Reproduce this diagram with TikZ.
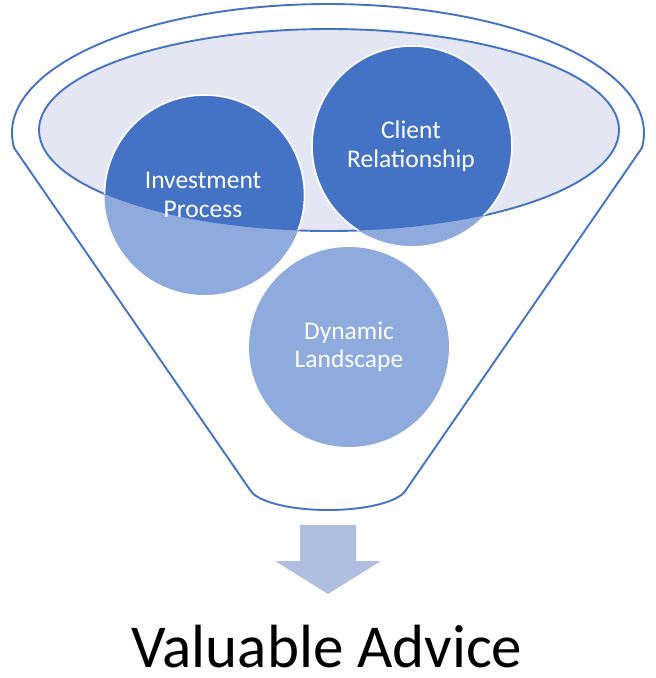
\documentclass[tikz,border=0pt]{standalone}
\usepackage{fontspec}
\setmainfont{Carlito}
\usetikzlibrary{calc}
\definecolor{fblue}{HTML}{4472C4}
\definecolor{flight}{HTML}{8FAADC}
\definecolor{flav}{HTML}{E4E7F3}
\definecolor{farrow}{HTML}{B0BEDF}
\tikzset{
  funnelline/.style={draw=fblue, line width=1.9pt, line join=round},
  circlelabel/.style={text=white, align=center, font=\fontsize{25.5}{28.5}\selectfont, inner sep=0pt},
}
\begin{document}
\begin{tikzpicture}[x=1pt,y=-1pt]
\useasboundingbox[fill=white] (0,0) rectangle (656,678);
% funnel outline
\coordinate (oc) at (328,133);
\coordinate (bc) at (328,486);
\draw[funnelline] ($(oc)+(173.3:316 and 129)$) coordinate (ltop)
  arc[start angle=173.3, end angle=366.7, x radius=316, y radius=129] coordinate (rtop)
  -- ($(bc)+(10:79 and 24)$) coordinate (rbot)
  arc[start angle=10, end angle=170, x radius=79, y radius=24] coordinate (lbot)
  -- cycle;
% inner ellipse
\coordinate (ic) at (329,130);
\draw[funnelline, fill=flav] (ic) ellipse[x radius=290, y radius=101];
% circles (light part)
\coordinate (c1) at (204.5,195);
\coordinate (c2) at (412,146);
\coordinate (c3) at (349,347);
\foreach \c in {c1,c2,c3}{
  \fill[flight] (\c) circle[radius=100];
}
% dark parts inside the inner ellipse
\begin{scope}
  \clip (ic) ellipse[x radius=290, y radius=101];
  \foreach \c in {c1,c2,c3}{
    \draw[fill=fblue, draw=white, line width=1.6pt] (\c) circle[radius=100];
  }
\end{scope}
% labels
\node[circlelabel] (inv) at (203,195) {Investment\\Process};
\node[circlelabel] (cli) at (411,146) {Client\\Relationship};
\node[circlelabel] (dyn) at (349,347) {Dynamic\\Landscape};
% arrow
\fill[farrow] (300,525) -- (356,525) -- (356,561) -- (381,561) -- (328,594)
  -- (275,561) -- (300,561) -- cycle;
% result text
\node[anchor=base, inner sep=0pt, font=\fontsize{61}{64}\selectfont] (res) at (327,667) {Valuable Advice};
\end{tikzpicture}
\end{document}
